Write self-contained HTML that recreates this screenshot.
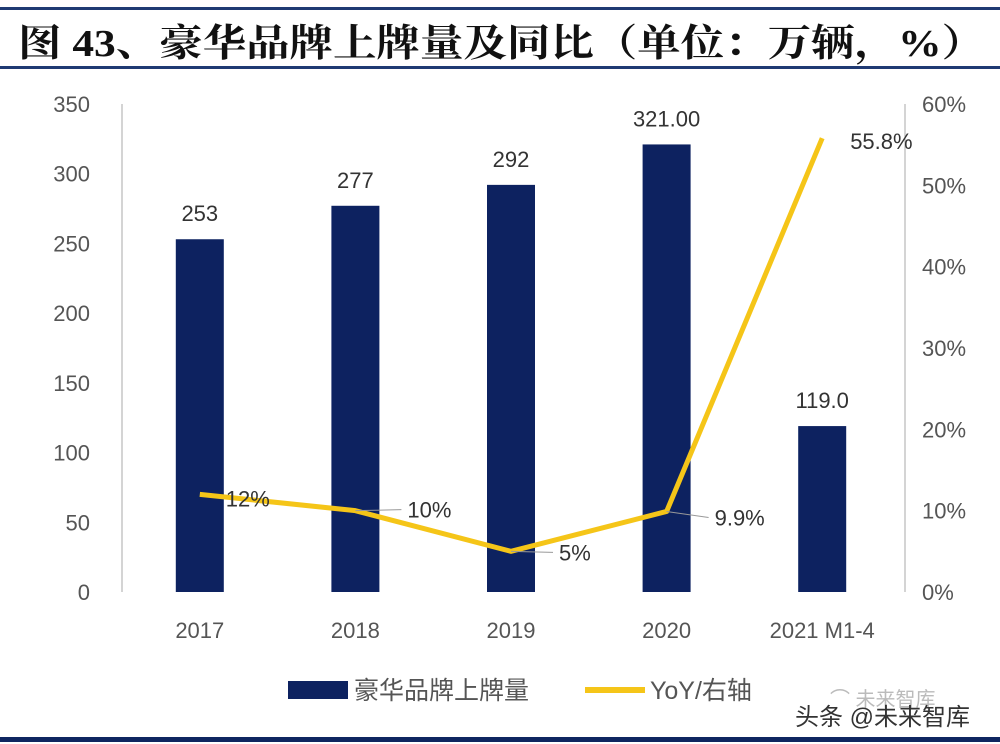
<!DOCTYPE html>
<html><head><meta charset="utf-8"><style>
html,body{margin:0;padding:0;background:#fff;width:1000px;height:744px;overflow:hidden}
svg{display:block}
text{font-family:"Liberation Sans","Noto Sans CJK SC",sans-serif}
</style></head><body>
<svg id="chart" width="1000" height="744" viewBox="0 0 1000 744">
<rect x="0" y="7" width="1000" height="3" fill="#1f3a73"/>
<text x="18" y="56" font-size="38" font-weight="bold" fill="#111" style="font-family:'Liberation Serif','Noto Serif CJK SC',serif" textLength="967" lengthAdjust="spacingAndGlyphs">图 43、豪华品牌上牌量及同比（单位：万辆，%）</text>
<rect x="0" y="66" width="1000" height="3" fill="#1f3a73"/>
<rect x="0" y="737" width="1000" height="5" fill="#0f2660"/>
<g id="plot"></g>
<g>
<rect x="288" y="681" width="60" height="18" fill="#0d2260"/>
<text x="354" y="699" font-size="25" fill="#555">豪华品牌上牌量</text>
<line x1="585" y1="690" x2="645" y2="690" stroke="#f5c518" stroke-width="6"/>
<text x="650" y="699" font-size="25" fill="#555">YoY/右轴</text>
</g>
<text x="830" y="706" font-size="20" fill="#bbb">⌒ 未来智库</text>
<text x="795" y="725" font-size="24" fill="#333">头条 @未来智库</text>
</svg>
<script>
const categories=["2017","2018","2019","2020","2021 M1-4"];
const volumes=[253,277,292,321,119];
const volumeLabels=["253","277","292","321.00","119.0"];
const yoy=[12,10,5,9.9,55.8];
const yoyLabels=["12%","10%","5%","9.9%","55.8%"];
const leftTicks=[0,50,100,150,200,250,300,350];
const rightTicks=[0,10,20,30,40,50,60];
const NS="http://www.w3.org/2000/svg";
const g=document.getElementById('plot');
const x0=122,x1=900,yTop=104,yBot=592;
const step=(x1-x0)/categories.length;
const xc=i=>x0+step*(i+0.5);
const yL=v=>yBot-(v/350)*(yBot-yTop);
const yR=v=>yBot-(v/60)*(yBot-yTop);
function el(t,a,txt){const e=document.createElementNS(NS,t);for(const k in a)e.setAttribute(k,a[k]);if(txt!=null)e.textContent=txt;g.appendChild(e);return e;}
let e=el('line',{x1:x0,y1:yTop,x2:x0,y2:yBot,stroke:'#aaa'});


e=el('line',{x1:905,y1:yTop,x2:905,y2:yBot,stroke:'#aaa'});


leftTicks.forEach(v=>{const t=el('text',{x:90,y:yL(v)+8,'font-size':22,fill:'#555','text-anchor':'end'},String(v));

});
rightTicks.forEach(v=>{const t=el('text',{x:922,y:yR(v)+8,'font-size':22,fill:'#555'},v+'%');

});
categories.forEach((c,i)=>{
const b=el('rect',{x:xc(i)-24,y:yL(volumes[i]),width:48,height:yBot-yL(volumes[i]),fill:'#0d2260'});


const l=el('text',{x:xc(i),y:yL(volumes[i])-18,'font-size':22,fill:'#333','text-anchor':'middle'},volumeLabels[i]);


const t=el('text',{x:xc(i),y:638,'font-size':22,fill:'#555','text-anchor':'middle'},c);


});
const pts=yoy.map((v,i)=>xc(i)+','+yR(v)).join(' ');
const pl=el('polyline',{points:pts,fill:'none',stroke:'#f5c518','stroke-width':5,'stroke-linejoin':'round'});


const offs=[[26,12,false],[52,7,true],[48,9,true],[48,14,true],[28,11,false]];
yoy.forEach((v,i)=>{
const px=xc(i),py=yR(v),o=offs[i];
if(o[2]){const ln=el('line',{x1:px,y1:py,x2:px+o[0]-6,y2:py+o[1]-8,stroke:'#999'});

}
const t=el('text',{x:px+o[0],y:py+o[1],'font-size':22,fill:'#333'},yoyLabels[i]);


});
</script>
</body></html>
